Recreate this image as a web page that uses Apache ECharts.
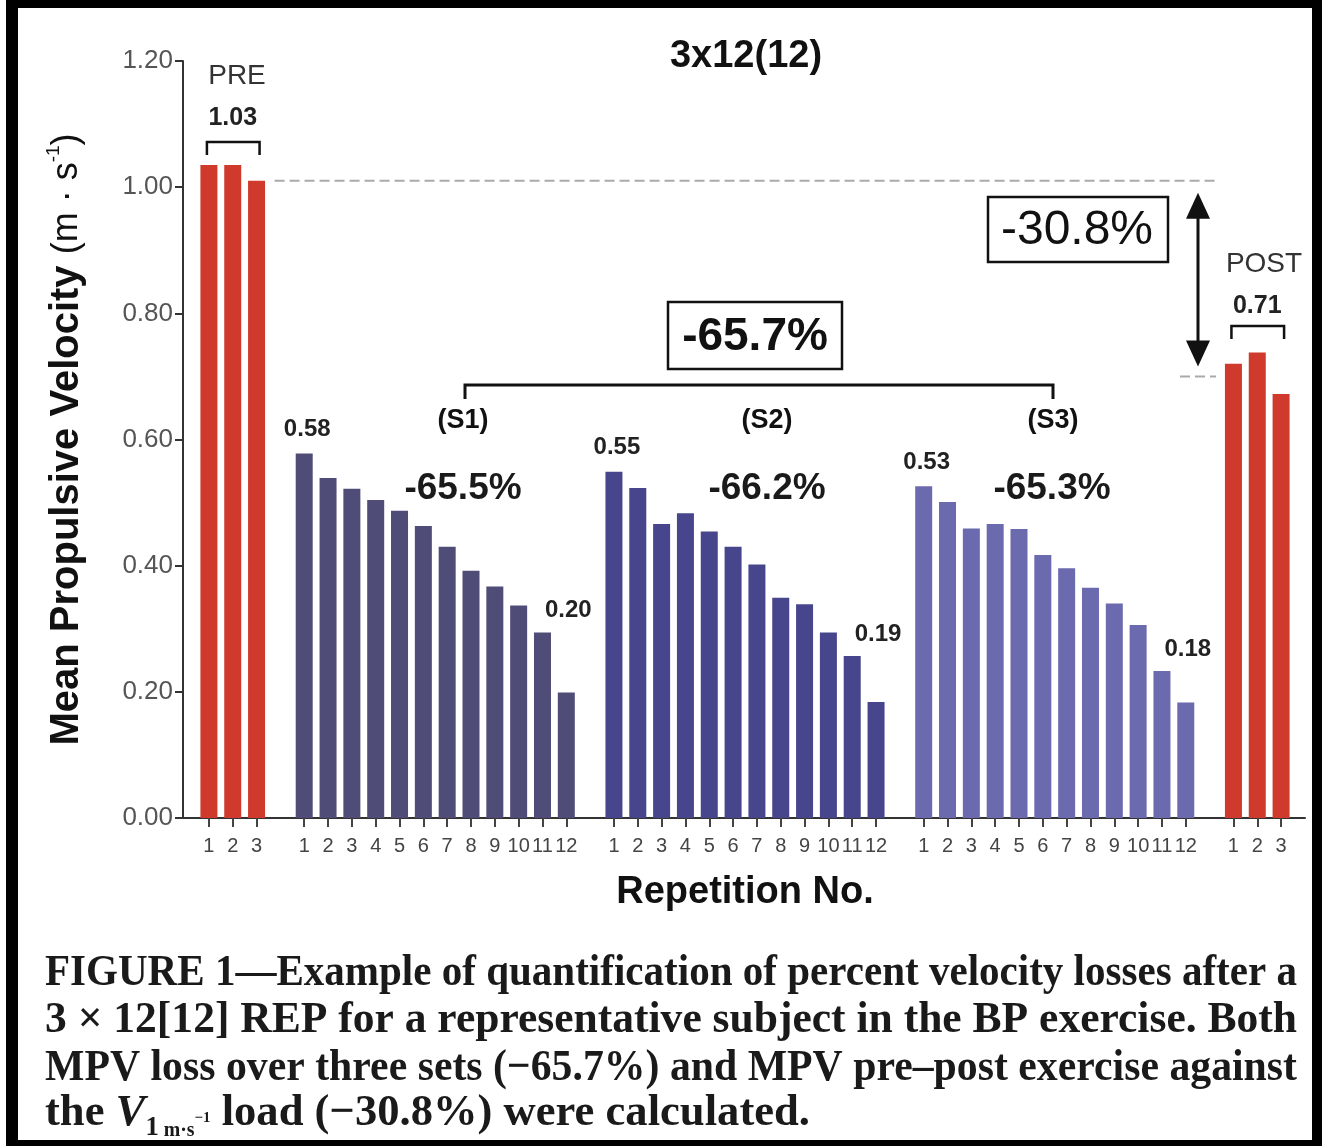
<!DOCTYPE html>
<html><head><meta charset="utf-8">
<script src="https://cdn.jsdelivr.net/npm/echarts@6/dist/echarts.min.js"></script>
<style>html,body{margin:0;padding:0;background:#fff}#c{width:1322px;height:1146px}</style>
</head><body><div id="c"></div>
<script>
// ---- data ----
const groupNames = ['PRE', 'S1', 'S2', 'S3', 'POST'];
const preValues  = [1.035, 1.035, 1.01];
const set1Values = [0.578, 0.539, 0.522, 0.504, 0.487, 0.463, 0.430, 0.392, 0.367, 0.337, 0.294, 0.199];
const set2Values = [0.549, 0.523, 0.466, 0.483, 0.454, 0.430, 0.402, 0.349, 0.339, 0.294, 0.257, 0.184];
const set3Values = [0.526, 0.501, 0.459, 0.466, 0.458, 0.417, 0.396, 0.365, 0.340, 0.306, 0.233, 0.183];
const postValues = [0.720, 0.738, 0.672];
const groupColors = ['#cf3a2d', '#4f4d78', '#47468c', '#6c6aae', '#cf3a2d'];
const preRef = 1.01;
const postRef = 0.70;
const setLosses = ['-65.5%', '-66.2%', '-65.3%'];
const setLabels = ['(S1)', '(S2)', '(S3)'];
const firstLast = [['0.58', '0.20'], ['0.55', '0.19'], ['0.53', '0.18']];
const captionLines = [
  'FIGURE 1\u2014Example of quantification of percent velocity losses after a',
  '3 \u00d7 12[12] REP for a representative subject in the BP exercise. Both',
  'MPV loss over three sets (\u221265.7%) and MPV pre\u2013post exercise against'
];

// ---- build categories ----
const groups = [preValues, set1Values, set2Values, set3Values, postValues];
const categories = [], tickLabels = [], barData = [];
groups.forEach((vals, g) => {
  if (g > 0) { categories.push('gap' + g); tickLabels.push(''); barData.push('-'); }
  vals.forEach((v, i) => {
    categories.push(groupNames[g] + '-' + (i + 1));
    tickLabels.push(String(i + 1));
    barData.push({ value: v, itemStyle: { color: groupColors[g] } });
  });
});

const SANS = '"Liberation Sans", Arial, sans-serif';
const SERIF = '"Liberation Serif", "Times New Roman", serif';

const chart = echarts.init(document.getElementById('c'), null, { renderer: 'canvas' });
chart.setOption({
  animation: false,
  backgroundColor: '#fff',
  grid: [
    { left: 183, right: 17, top: 61, height: 757 },
    { left: 197, right: 29, top: 61, height: 757 }
  ],
  xAxis: [
    { gridIndex: 0, type: 'value', min: 0, max: 1,
      axisLine: { show: true, onZero: false, lineStyle: { color: '#333', width: 2 } },
      axisTick: { show: false }, axisLabel: { show: false }, splitLine: { show: false } },
    { gridIndex: 1, type: 'category', data: categories,
      axisLine: { show: false },
      axisTick: { show: true, alignWithLabel: true, length: 9, lineStyle: { color: '#444', width: 2 },
                  interval: (i) => tickLabels[i] !== '' },
      axisLabel: { interval: 0, formatter: (v, i) => tickLabels[i], fontSize: 20, color: '#444',
                   fontFamily: SANS, margin: 18 },
      name: 'Repetition No.', nameLocation: 'middle', nameGap: 56,
      nameTextStyle: { fontSize: 38, fontWeight: 'bold', color: '#111', fontFamily: SANS } }
  ],
  yAxis: [
    { gridIndex: 0, type: 'value', min: 0, max: 1.2, interval: 0.2,
      axisLine: { show: true, lineStyle: { color: '#333', width: 2 } },
      axisTick: { show: true, length: 8, lineStyle: { color: '#333', width: 2 } },
      axisLabel: { formatter: (v) => v.toFixed(2), fontSize: 26, color: '#555', fontFamily: SANS, margin: 10 },
      splitLine: { show: false },
      name: '{b|Mean Propulsive Velocity }{n|(m \u00b7 s}{s|-1}{n|)}',
      nameLocation: 'middle', nameGap: 93, nameRotate: 90,
      nameTextStyle: {
        rich: {
          b: { fontSize: 40, fontWeight: 'bold', color: '#111', fontFamily: SANS, lineHeight: 46 },
          n: { fontSize: 36, color: '#111', fontFamily: SANS, lineHeight: 46 },
          s: { fontSize: 19, color: '#111', fontFamily: SANS, verticalAlign: 'top' }
        }
      } },
    { gridIndex: 1, type: 'value', min: 0, max: 1.2, show: false }
  ],
  series: [{
    type: 'bar', xAxisIndex: 1, yAxisIndex: 1, data: barData, barWidth: 17
  }]
});

// ---- annotations ----
const P = (name, v) => chart.convertToPixel({ gridIndex: 1 }, [categories.indexOf(name), v]);
const txt = (x, y, text, font, fill, align) => ({
  type: 'text', x, y, z: 10,
  style: { text, font, fill: fill || '#111', align: align || 'center', verticalAlign: 'middle' }
});
const poly = (pts, w) => ({ type: 'polyline', z: 10, shape: { points: pts },
  style: { stroke: '#111', lineWidth: w || 3, fill: null } });

const g = [];
// frame
g.push({ type: 'rect', shape: { x: 6, y: 0, width: 12, height: 1146 }, style: { fill: '#000' } });
g.push({ type: 'rect', shape: { x: 6, y: 0, width: 1316, height: 8 }, style: { fill: '#000' } });
g.push({ type: 'rect', shape: { x: 1312, y: 0, width: 10, height: 1146 }, style: { fill: '#000' } });
g.push({ type: 'rect', shape: { x: 6, y: 1140, width: 1316, height: 6 }, style: { fill: '#000' } });

g.push(txt(746, 57, '3x12(12)', 'bold 38px ' + SANS));

// PRE / POST brackets
const pre1 = P('PRE-1', 0), pre3 = P('PRE-3', preRef);
g.push(txt(237, 76, 'PRE', '28px ' + SANS, '#333'));
g.push(txt((pre1[0] + pre3[0]) / 2, 118, '1.03', 'bold 25px ' + SANS, '#222'));
g.push(poly([[pre1[0] - 2, 155], [pre1[0] - 2, 142], [pre3[0] + 3, 142], [pre3[0] + 3, 155]], 2.5));
const post1 = P('POST-1', 0), post3 = P('POST-3', postRef);
g.push(txt(1264, 264, 'POST', '28px ' + SANS, '#333'));
g.push(txt((post1[0] + post3[0]) / 2, 306, '0.71', 'bold 25px ' + SANS, '#222'));
g.push(poly([[post1[0] - 2, 339], [post1[0] - 2, 326], [post3[0] + 3, 326], [post3[0] + 3, 339]], 2.5));

// reference dashed lines
const yPre = pre3[1], yPost = post3[1];
const arrowX = 1198;
g.push({ type: 'line', z: 5, shape: { x1: pre3[0] + 18, y1: yPre, x2: arrowX + 18, y2: yPre },
  style: { stroke: '#aaa', lineWidth: 2, lineDash: [10, 5] } });
g.push({ type: 'line', z: 5, shape: { x1: arrowX - 18, y1: yPost, x2: arrowX + 18, y2: yPost },
  style: { stroke: '#aaa', lineWidth: 2, lineDash: [10, 5] } });
// double arrow
const aTop = yPre + 12, aBot = yPost - 10;
g.push({ type: 'line', z: 10, shape: { x1: arrowX, y1: aTop + 20, x2: arrowX, y2: aBot - 20 },
  style: { stroke: '#111', lineWidth: 3 } });
g.push({ type: 'polygon', z: 10, shape: { points: [[arrowX, aTop], [arrowX - 12, aTop + 26], [arrowX + 12, aTop + 26]] },
  style: { fill: '#111' } });
g.push({ type: 'polygon', z: 10, shape: { points: [[arrowX, aBot], [arrowX - 12, aBot - 26], [arrowX + 12, aBot - 26]] },
  style: { fill: '#111' } });

// boxes
g.push({ type: 'rect', z: 9, shape: { x: 988, y: 197, width: 180, height: 65 },
  style: { fill: '#fff', stroke: '#111', lineWidth: 2.5 } });
g.push(txt(1077, 231, '-30.8%', '48px ' + SANS));
g.push({ type: 'rect', z: 9, shape: { x: 668, y: 302, width: 174, height: 67 },
  style: { fill: '#fff', stroke: '#111', lineWidth: 2.5 } });
g.push(txt(755, 337, '-65.7%', 'bold 46px ' + SANS));

// big bracket over sets
g.push(poly([[465, 399], [465, 385], [1053, 385], [1053, 399]], 3));
const setX = [463, 767, 1053];
const lossX = [463, 767, 1052];
setLabels.forEach((s, i) => {
  g.push(txt(setX[i], 421, s, 'bold 27px ' + SANS));
  g.push(txt(lossX[i], 489, setLosses[i], 'bold 37px ' + SANS, '#1a1a1a'));
});
// first / last values
['S1', 'S2', 'S3'].forEach((s, i) => {
  const vals = groups[i + 1];
  const a = P(s + '-1', vals[0]);
  const b = P(s + '-12', vals[10]);
  g.push(txt(a[0] + 3, a[1] - 24, firstLast[i][0], 'bold 24px ' + SANS, '#222'));
  g.push(txt(b[0] + 2, b[1] - 22, firstLast[i][1], 'bold 24px ' + SANS, '#222'));
});

// caption
const ctx = document.createElement('canvas').getContext('2d');
const mw = (t, f) => { ctx.font = f; return ctx.measureText(t).width; };
const CF = 'bold 45px ' + SERIF;
const capLeft = 45, capWidth = 1252, line4End = 810;
const baselines = [988, 1035.5, 1083, 1129];
captionLines.forEach((line, i) => {
  const s = capWidth / mw(line, CF);
  g.push({ type: 'text', x: capLeft, y: baselines[i] - 15, scaleX: s, z: 10,
    style: { text: line, font: CF, fill: '#1a1a1a', align: 'left', verticalAlign: 'middle' } });
});
const pieces = [
  { t: 'the ', f: CF, size: 45, dy: 0 },
  { t: 'V', f: 'italic bold 45px ' + SERIF, size: 45, dy: 0 },
  { t: '1', f: 'bold 27px ' + SERIF, size: 27, dy: 8 },
  { t: ' m\u00b7s', f: 'bold 20px ' + SERIF, size: 20, dy: 9 },
  { t: '\u22121', f: 'bold 15px ' + SERIF, size: 15, dy: -6 },
  { t: ' load (\u221230.8%) were calculated.', f: CF, size: 45, dy: 0 }
];
const natural = pieces.reduce((acc, p) => acc + mw(p.t, p.f), 0);
const s4 = (line4End - capLeft) / natural;
let cx = capLeft;
pieces.forEach(p => {
  g.push({ type: 'text', x: cx, y: baselines[3] + p.dy - 0.34 * p.size, scaleX: s4, z: 10,
    style: { text: p.t, font: p.f, fill: '#1a1a1a', align: 'left', verticalAlign: 'middle' } });
  cx += mw(p.t, p.f) * s4;
});

chart.setOption({ graphic: { elements: g } });
</script>
</body></html>
